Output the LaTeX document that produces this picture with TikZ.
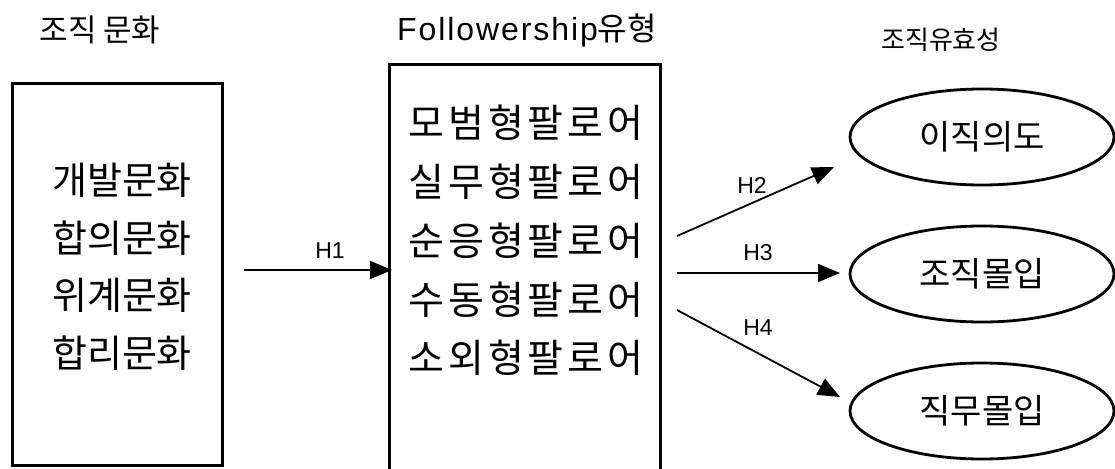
\documentclass[tikz,border=0pt]{standalone}
\usepackage{fontspec}
\setmainfont{Liberation Sans}
\newfontfamily\kr{Noto Sans CJK KR}
\newfontfamily\krwide{Noto Sans CJK KR}[LetterSpace=10]
\newfontfamily\latwide{Liberation Sans}[LetterSpace=6]
\usetikzlibrary{arrows.meta,shapes.geometric}
\tikzset{
  frame/.style={draw, line width=3pt},
  oval/.style={draw, line width=2.8pt, ellipse, minimum width=264pt, minimum height=96pt, inner sep=0pt, font=\kr\fontsize{34}{34}\selectfont},
  lefttext/.style={font=\kr\fontsize{38}{38}\selectfont, inner sep=0pt},
  midtext/.style={font=\krwide\fontsize{39}{39}\selectfont, inner sep=0pt},
  title/.style={inner sep=0pt},
  link/.style={line width=1.8pt, -{Triangle[length=22pt,width=18pt]}},
  hlabel/.style={font=\fontsize{23}{23}\selectfont, inner sep=0pt}
}
\begin{document}
\begin{tikzpicture}[x=1pt,y=-1pt]
\useasboundingbox (0,0) rectangle (1115,468);
% titles
\node[title, font=\kr\fontsize{31}{31}\selectfont] (t1) at (100,30) {조직 문화};
\node[title, font=\latwide\fontsize{32}{32}\selectfont] (t2) at (527,30) {Followership{\kr 유형}};
\node[title, font=\kr\fontsize{26}{26}\selectfont] (t3) at (941,40) {조직유효성};
% left box
\draw[frame] (12,84) rectangle (222,465);
\node[lefttext] (c1) at (122,180) {개발문화};
\node[lefttext] (c2) at (122,238) {합의문화};
\node[lefttext] (c3) at (122,295) {위계문화};
\node[lefttext] (c4) at (122,353) {합리문화};
% middle box (open at bottom, runs past the edge)
\draw[frame] (389,480) -- (389,65) -- (660,65) -- (660,480);
\node[midtext] (f1) at (526,123) {모범형팔로어};
\node[midtext] (f2) at (526,182) {실무형팔로어};
\node[midtext] (f3) at (526,241) {순응형팔로어};
\node[midtext] (f4) at (526,300) {수동형팔로어};
\node[midtext] (f5) at (526,358) {소외형팔로어};
% ellipses
\node[oval] (e1) at (982,137) {이직의도};
\node[oval] (e2) at (982,274) {조직몰입};
\node[oval] (e3) at (982,411) {직무몰입};
% arrows
\coordinate (a1s) at (244,270);
\coordinate (a1e) at (392,270);
\draw[link] (a1s) -- (a1e);
\node[hlabel] (h1) at (330,251) {H1};
\coordinate (a2s) at (677,236);
\coordinate (a2e) at (834,167);
\draw[link] (a2s) -- (a2e);
\node[hlabel] (h2) at (752,185) {H2};
\coordinate (a3s) at (677,273);
\coordinate (a3e) at (840,273);
\draw[link] (a3s) -- (a3e);
\node[hlabel] (h3) at (758,253) {H3};
\coordinate (a4s) at (677,310);
\coordinate (a4e) at (840,397);
\draw[link] (a4s) -- (a4e);
\node[hlabel] (h4) at (758,328) {H4};
\end{tikzpicture}
\end{document}
